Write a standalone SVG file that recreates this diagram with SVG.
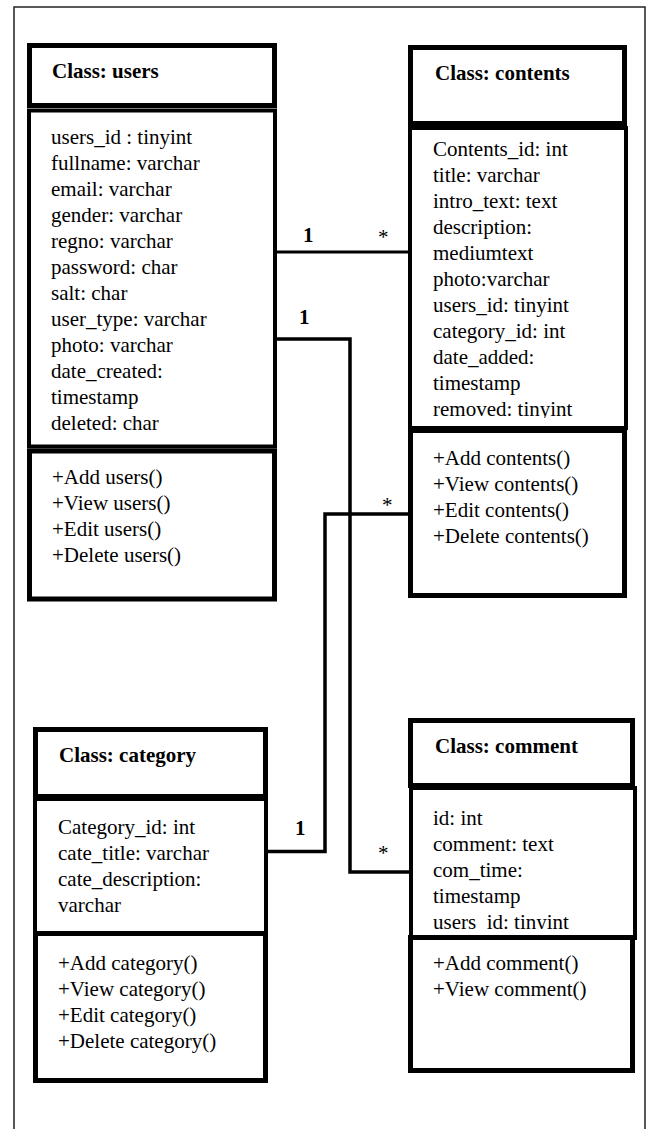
<svg xmlns="http://www.w3.org/2000/svg" width="651" height="1129" viewBox="0 0 651 1129">
<style>
.frame{fill:none;stroke:#222;stroke-width:1.5}
.hd{fill:#fff;stroke:#000;stroke-width:5}
.at{fill:#fff;stroke:#000;stroke-width:4}
.mt{fill:#fff;stroke:#000;stroke-width:5}
.t{font-family:"Liberation Serif","Times New Roman",serif;font-size:21px;fill:#000}
.b{font-weight:bold}
.conn{fill:none;stroke:#000;stroke-width:3.5}
</style>
<defs>
<clipPath id="clipContents"><rect x="412" y="130" width="212" height="288"/></clipPath>
<clipPath id="clipComment"><rect x="413" y="790" width="220" height="139"/></clipPath>
</defs>
<rect width="651" height="1129" fill="#fff"/>
<path class="frame" d="M14,1135 V7 H645 V1135"/>

<g id="connectors">
<path class="conn" d="M277,252 H409" style="stroke-width:3"/>
<path class="conn" d="M277,339 H350 V872 H409"/>
<path class="conn" d="M268,851.5 H325 V514 H409"/>
<text class="t b" x="303" y="242">1</text>
<text class="t" x="378" y="244">*</text>
<text class="t b" x="299" y="324">1</text>
<text class="t" x="382" y="512">*</text>
<text class="t b" x="295" y="835">1</text>
<text class="t" x="378" y="860">*</text>
</g>

<g id="users">
<rect class="hd" x="29.5" y="45.5" width="245" height="60"/>
<text class="t b" x="52" y="78">Class: users</text>
<rect class="at" x="29" y="110.5" width="246" height="336"/>
<text class="t" x="51" y="144">users_id : tinyint</text>
<text class="t" x="51" y="170">fullname: varchar</text>
<text class="t" x="51" y="196">email: varchar</text>
<text class="t" x="51" y="222">gender: varchar</text>
<text class="t" x="51" y="248">regno: varchar</text>
<text class="t" x="51" y="274">password: char</text>
<text class="t" x="51" y="300">salt: char</text>
<text class="t" x="51" y="326">user_type: varchar</text>
<text class="t" x="51" y="352">photo: varchar</text>
<text class="t" x="51" y="378">date_created:</text>
<text class="t" x="51" y="404">timestamp</text>
<text class="t" x="51" y="430">deleted: char</text>
<rect class="mt" x="29.5" y="451" width="245" height="148"/>
<text class="t" x="52" y="484">+Add users()</text>
<text class="t" x="52" y="510">+View users()</text>
<text class="t" x="52" y="536">+Edit users()</text>
<text class="t" x="52" y="562">+Delete users()</text>
</g>

<g id="contents">
<rect class="hd" x="410.5" y="47.5" width="214" height="76"/>
<text class="t b" x="435" y="80">Class: contents</text>
<rect class="at" x="410" y="128" width="216" height="300"/>
<g clip-path="url(#clipContents)">
<text class="t" x="433" y="156">Contents_id: int</text>
<text class="t" x="433" y="182">title: varchar</text>
<text class="t" x="433" y="208">intro_text: text</text>
<text class="t" x="433" y="234">description:</text>
<text class="t" x="433" y="260">mediumtext</text>
<text class="t" x="433" y="286">photo:varchar</text>
<text class="t" x="433" y="312">users_id: tinyint</text>
<text class="t" x="433" y="338">category_id: int</text>
<text class="t" x="433" y="364">date_added:</text>
<text class="t" x="433" y="390">timestamp</text>
<text class="t" x="433" y="416">removed: tinyint</text>
</g>
<rect class="mt" x="410.5" y="430.5" width="214" height="165"/>
<text class="t" x="433" y="465">+Add contents()</text>
<text class="t" x="433" y="491">+View contents()</text>
<text class="t" x="433" y="517">+Edit contents()</text>
<text class="t" x="433" y="543">+Delete contents()</text>
</g>

<g id="category">
<rect class="hd" x="35.5" y="729.5" width="230" height="67"/>
<text class="t b" x="59" y="762">Class: category</text>
<rect class="at" x="35" y="799" width="231" height="134"/>
<text class="t" x="58" y="834">Category_id: int</text>
<text class="t" x="58" y="860">cate_title: varchar</text>
<text class="t" x="58" y="886">cate_description:</text>
<text class="t" x="58" y="912">varchar</text>
<rect class="mt" x="35.5" y="933.5" width="230" height="147"/>
<text class="t" x="58" y="970">+Add category()</text>
<text class="t" x="58" y="996">+View category()</text>
<text class="t" x="58" y="1022">+Edit category()</text>
<text class="t" x="58" y="1048">+Delete category()</text>
</g>

<g id="comment">
<rect class="hd" x="410.5" y="720.5" width="222" height="65"/>
<text class="t b" x="435" y="753">Class: comment</text>
<rect class="at" x="411" y="788" width="224" height="150"/>
<g clip-path="url(#clipComment)">
<text class="t" x="433" y="825">id: int</text>
<text class="t" x="433" y="851">comment: text</text>
<text class="t" x="433" y="877">com_time:</text>
<text class="t" x="433" y="903">timestamp</text>
<text class="t" x="433" y="929">users_id: tinyint</text>
</g>
<rect class="mt" x="410.5" y="937.5" width="222" height="133"/>
<text class="t" x="433" y="970">+Add comment()</text>
<text class="t" x="433" y="996">+View comment()</text>
</g>
</svg>
